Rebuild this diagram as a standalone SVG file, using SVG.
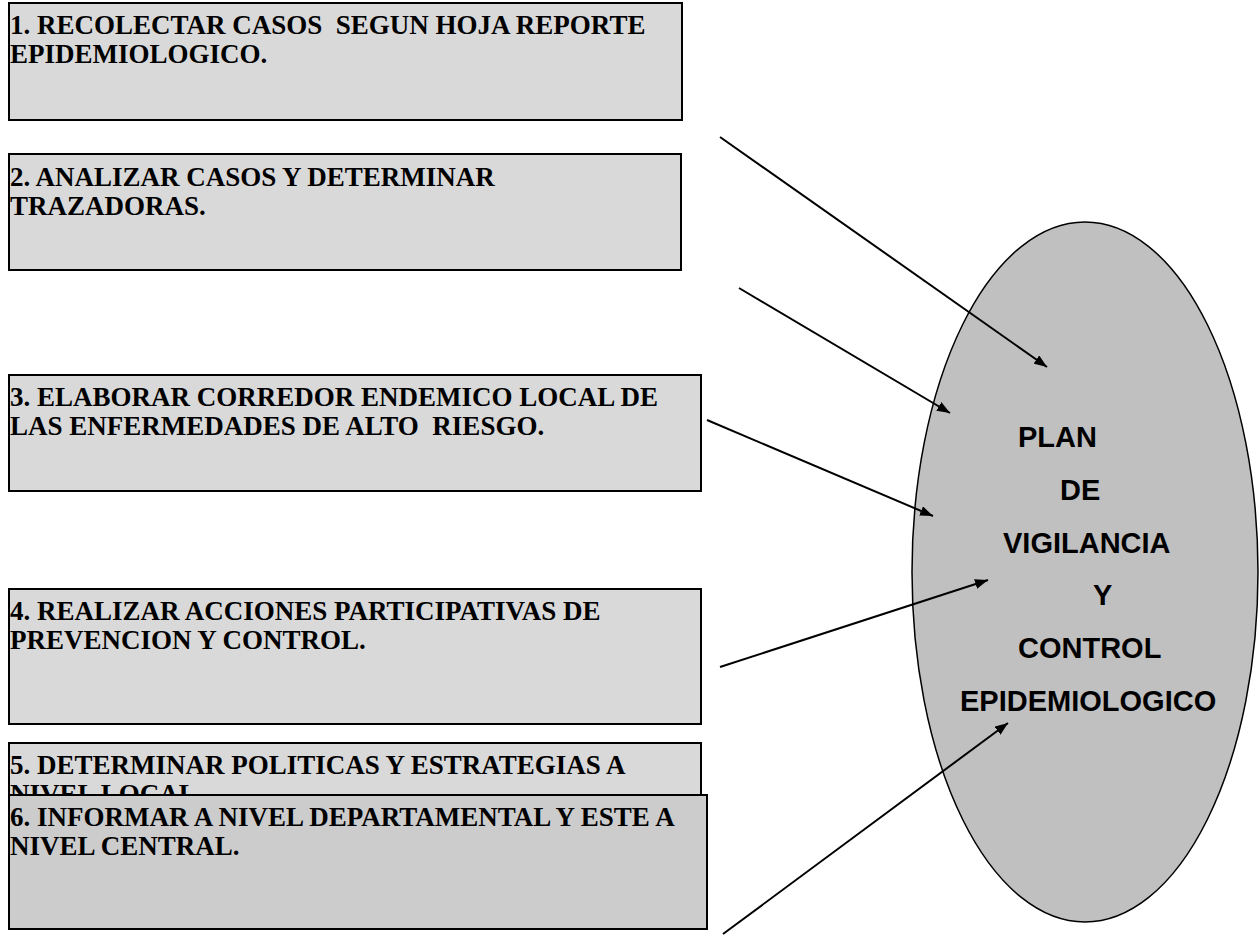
<svg xmlns="http://www.w3.org/2000/svg" width="1259" height="935" viewBox="0 0 1259 935">
<style>
.box{fill:#d9d9d9;stroke:#000;stroke-width:2}
.box6{fill:#cccccc;stroke:#000;stroke-width:2}
.bt{font-family:"Liberation Serif","Times New Roman",serif;font-weight:bold;font-size:27px;fill:#000}
.et{font-family:"Liberation Sans",Arial,sans-serif;font-weight:bold;font-size:29px;fill:#000}
.conn{stroke:#000;stroke-width:2;fill:none;marker-end:url(#ah)}
</style>
<defs>
<marker id="ah" markerUnits="userSpaceOnUse" markerWidth="14" markerHeight="10" refX="13" refY="5" orient="auto">
<path d="M0,0 L13,5 L0,10 Z" fill="#000"/>
</marker>
</defs>
<rect width="1259" height="935" fill="#fff"/>
<g id="plan">
<ellipse cx="1085" cy="572" rx="173" ry="350" fill="#c0c0c0" stroke="#000" stroke-width="1.5"/>
<text class="et" x="1018" y="447">PLAN</text>
<text class="et" x="1060" y="500">DE</text>
<text class="et" x="1003" y="553">VIGILANCIA</text>
<text class="et" x="1093" y="605">Y</text>
<text class="et" x="1018" y="658">CONTROL</text>
<text class="et" x="960" y="711">EPIDEMIOLOGICO</text>
</g>
<g id="n1">
<rect class="box" x="9" y="3" width="673" height="117"/>
<text class="bt" x="10" y="34" xml:space="preserve">1. RECOLECTAR CASOS  SEGUN HOJA REPORTE</text>
<text class="bt" x="10" y="63">EPIDEMIOLOGICO.</text>
</g>
<g id="n2">
<rect class="box" x="9" y="154" width="672" height="116"/>
<text class="bt" x="10" y="186">2. ANALIZAR CASOS Y DETERMINAR</text>
<text class="bt" x="10" y="215">TRAZADORAS.</text>
</g>
<g id="n3">
<rect class="box" x="9" y="375" width="692" height="116"/>
<text class="bt" x="10" y="406" xml:space="preserve">3. ELABORAR CORREDOR ENDEMICO LOCAL DE</text>
<text class="bt" x="10" y="435" xml:space="preserve">LAS ENFERMEDADES DE ALTO  RIESGO.</text>
</g>
<g id="n4">
<rect class="box" x="9" y="589" width="692" height="135"/>
<text class="bt" x="10" y="620">4. REALIZAR ACCIONES PARTICIPATIVAS DE</text>
<text class="bt" x="10" y="649">PREVENCION Y CONTROL.</text>
</g>
<g id="n5">
<rect class="box" x="9" y="743" width="692" height="80"/>
<text class="bt" x="10" y="774">5. DETERMINAR POLITICAS Y ESTRATEGIAS A</text>
<text class="bt" x="10" y="803">NIVEL LOCAL</text>
</g>
<g id="n6">
<rect class="box6" x="9" y="795" width="698" height="134"/>
<text class="bt" x="10" y="826">6. INFORMAR A NIVEL DEPARTAMENTAL Y ESTE A</text>
<text class="bt" x="10" y="855">NIVEL CENTRAL.</text>
</g>
<g id="connectors">
<line class="conn" x1="720" y1="137" x2="1047" y2="367"/>
<line class="conn" x1="739" y1="288" x2="950" y2="413"/>
<line class="conn" x1="707" y1="420" x2="933" y2="516"/>
<line class="conn" x1="720" y1="667" x2="988" y2="580"/>
<line class="conn" x1="723" y1="934" x2="1008" y2="723"/>
</g>
</svg>
